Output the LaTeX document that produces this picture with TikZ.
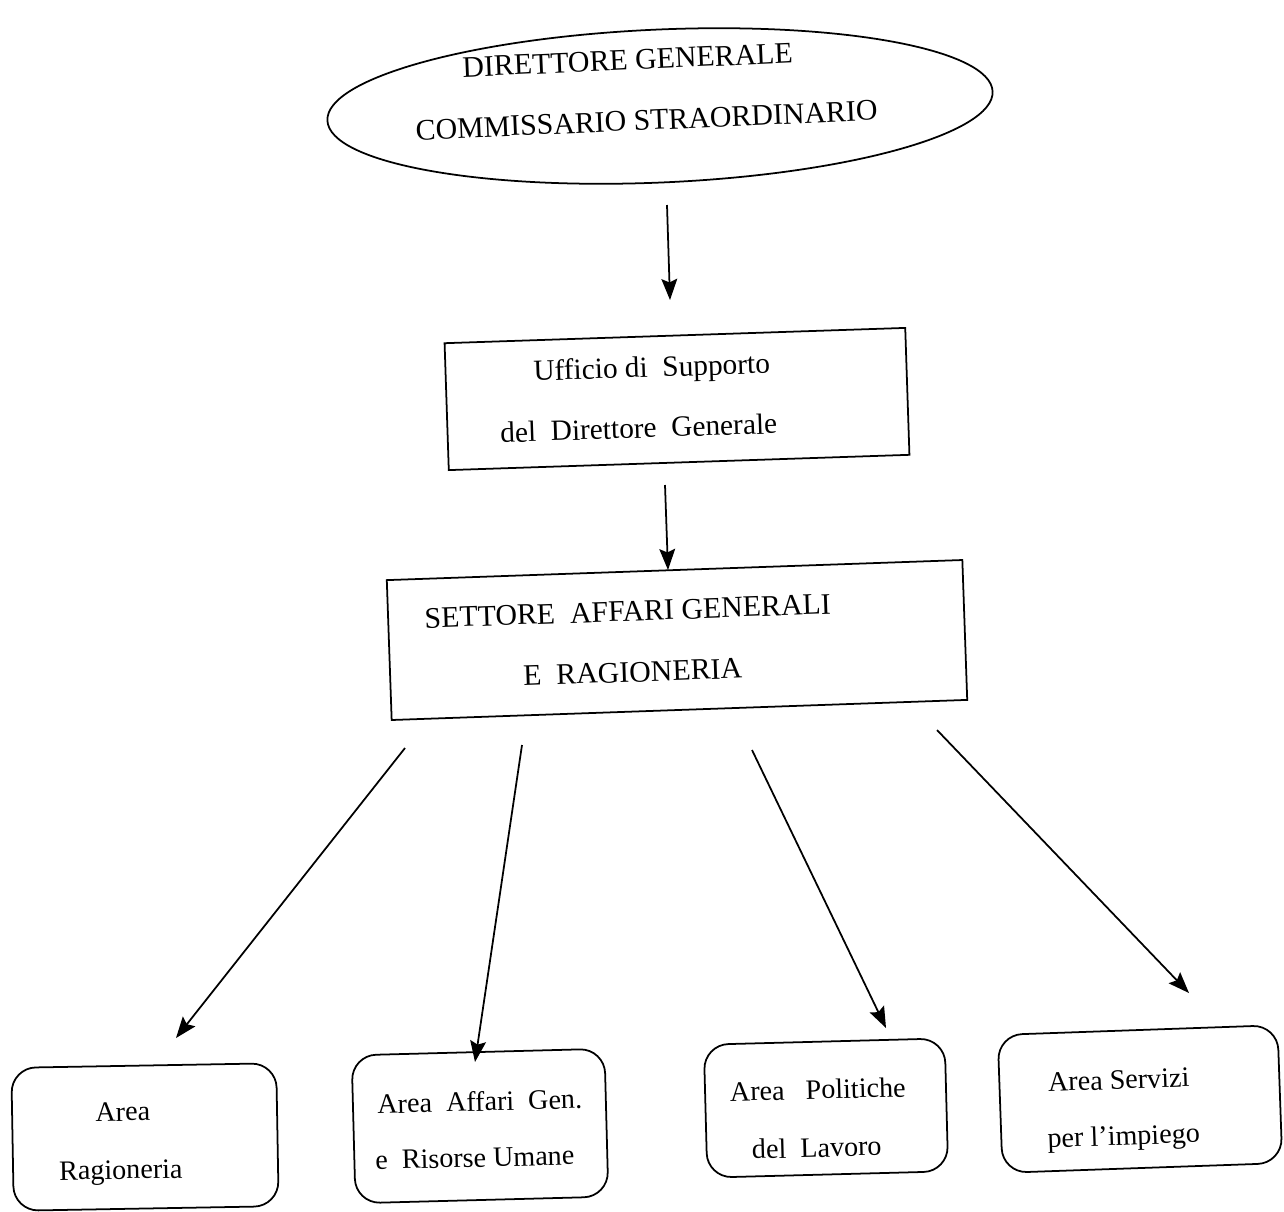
\documentclass[tikz,border=0pt]{standalone}
\usepackage{fontspec}
\setmainfont{Liberation Serif}
\usetikzlibrary{arrows.meta,shapes.geometric}
\begin{document}
\begin{tikzpicture}[x=0.02cm,y=-0.02cm,
  line width=1pt,
  arr/.style={-{Stealth[length=12pt,width=9pt,inset=2pt]},line width=1pt},
  sqbox/.style={draw,rectangle,inner sep=0pt},
  rbox/.style={draw,rectangle,rounded corners=14pt,inner sep=0pt},
  lbl/.style={anchor=base,inner sep=0pt,font=\fontsize{16}{19}\selectfont},
  biglbl/.style={anchor=base,inner sep=0pt,font=\fontsize{16.7}{20}\selectfont},
  caps/.style={anchor=base,inner sep=0pt,font=\fontsize{17}{20}\selectfont}]
\useasboundingbox (0,0) rectangle (1284,1211);

% top ellipse
\node[draw,ellipse,inner sep=0pt,minimum width=13.32cm,minimum height=3.06cm,rotate=2.5] (dg) at (660,106) {};
\node[caps,rotate=2.5] (dg1) at (628,70) {DIRETTORE GENERALE};
\node[caps,rotate=2.5] (dg2) at (647,130) {COMMISSARIO STRAORDINARIO};

% Ufficio box
\node[sqbox,minimum width=9.22cm,minimum height=2.54cm,rotate=1.9] (uff) at (677,399) {};
\node[biglbl,rotate=1.9] (uff1) at (652,377) {Ufficio di\ \ Supporto};
\node[biglbl,rotate=1.9] (uff2) at (639,438) {del\ \ Direttore\ \ Generale};

% Settore box
\node[sqbox,minimum width=11.52cm,minimum height=2.8cm,rotate=2] (set) at (677,640) {};
\node[caps,rotate=2] (set1) at (628,621) {SETTORE\ \ AFFARI GENERALI};
\node[caps,rotate=2] (set2) at (633,682) {E\ \ RAGIONERIA};

% bottom boxes
\node[rbox,minimum width=5.3cm,minimum height=2.86cm,rotate=1] (a1) at (145,1137) {};
\node[lbl,rotate=1] (a1t) at (123,1121) {Area};
\node[lbl,rotate=1] (a1b) at (121,1179) {Ragioneria};

\node[rbox,minimum width=5.06cm,minimum height=2.96cm,rotate=1.5] (a2) at (480,1126) {};
\node[lbl,rotate=1.5] (a2t) at (480,1111) {Area\ \ Affari\ \ Gen.};
\node[lbl,rotate=1.5] (a2b) at (475,1167) {e\ \ Risorse Umane};

\node[rbox,minimum width=4.82cm,minimum height=2.66cm,rotate=1.5] (a3) at (826,1108) {};
\node[lbl,rotate=1.5] (a3t) at (818,1099) {Area\ \ \ Politiche};
\node[lbl,rotate=1.5] (a3b) at (817,1157) {del\ \ Lavoro};

\node[rbox,minimum width=5.6cm,minimum height=2.76cm,rotate=2] (a4) at (1140,1099) {};
\node[lbl,rotate=2] (a4t) at (1119,1089) {Area Servizi};
\node[lbl,rotate=2] (a4b) at (1124,1145) {per l’impiego};

% connector end points (arrows float between the shapes)
\coordinate (c1s) at (667,205);
\coordinate (c1e) at (670,300);
\coordinate (c2s) at (665,485);
\coordinate (c2e) at (668,570);
\coordinate (d1s) at (405,748);
\coordinate (d1e) at (176,1038);
\coordinate (d2s) at (522,745);
\coordinate (d2e) at (475,1062);
\coordinate (d3s) at (752,750);
\coordinate (d3e) at (886,1028);
\coordinate (d4s) at (937,730);
\coordinate (d4e) at (1189,993);

\draw[arr] (c1s) -- (c1e);
\draw[arr] (c2s) -- (c2e);
\draw[arr] (d1s) -- (d1e);
\draw[arr] (d2s) -- (d2e);
\draw[arr] (d3s) -- (d3e);
\draw[arr] (d4s) -- (d4e);
\end{tikzpicture}
\end{document}
